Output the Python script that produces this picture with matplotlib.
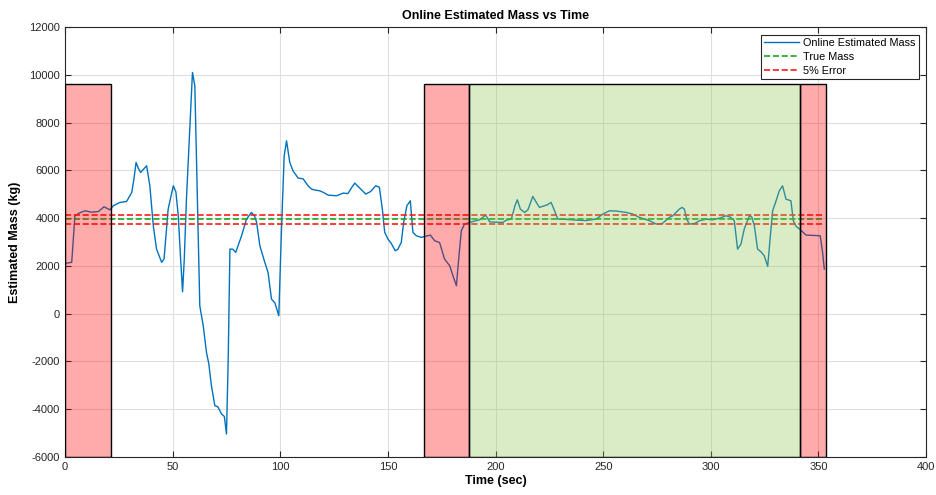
import matplotlib
matplotlib.use("Agg")
import matplotlib.pyplot as plt
from matplotlib.patches import Rectangle

plt.rcParams['font.family'] = ['Liberation Sans', 'DejaVu Sans']
plt.rcParams['axes.unicode_minus'] = False

# ---- data ----
time_s = [0, 0.8, 3.1, 4.6, 6.5, 9.3, 12.4, 15.5, 18.1, 20.9, 22.4, 25.5, 28.6, 31.0, 32.0,
          33.0, 34.0, 35.1, 37.9, 39.4, 41.0, 42.5, 44.9, 46.0, 47.9, 50.3, 51.5, 52.6, 53.7,
          54.6, 55.4, 56.4, 58.0, 59.2, 60.3, 61.4, 62.6, 64.2, 65.7, 66.8, 68.0, 69.6, 71.0,
          72.7, 74.0, 75.0, 75.8, 76.6, 78.0, 79.3, 82.0, 84.3, 86.6, 88.0, 89.0, 90.5, 92.8,
          94.3, 95.9, 97.5, 99.3, 100.5, 101.8, 102.9, 104.4, 105.9, 108.3, 110.6, 112.9,
          114.5, 116.0, 118.3, 120.0, 122.2, 126.1, 129.2, 131.4, 133.2, 134.6, 137.0, 139.7,
          142.0, 144.3, 146.0, 147.4, 148.5, 150.0, 151.5, 153.4, 154.6, 156.2, 157.3, 158.8,
          160.4, 161.6, 163.2, 165.5, 167.8, 169.7, 171.7, 174.0, 176.3, 178.7, 180.2, 181.8,
          183.0, 184.1, 185.6, 188.0, 192.6, 195.4, 197.2, 200.0, 203.4, 205.0, 207.3, 209.0,
          210.1, 211.5, 213.5, 215.0, 217.3, 219.0, 220.4, 222.0, 224.0, 225.8, 227.4, 228.9,
          233.0, 237.4, 242.0, 246.7, 249.8, 252.9, 256.0, 260.6, 263.5, 266.8, 271.5, 274.6,
          277.5, 280.7, 282.3, 283.8, 285.4, 286.6, 287.7, 288.8, 290.0, 292.5, 294.7, 297.7,
          300.8, 304.0, 307.0, 309.0, 310.9, 311.7, 312.4, 314.0, 315.5, 317.9, 319.0, 320.2,
          321.7, 323.2, 324.8, 326.4, 327.5, 328.7, 330.3, 331.8, 333.3, 334.9, 337.2, 338.3,
          339.6, 341.0, 342.6, 344.2, 347.0, 350.8, 351.9, 352.7]
mass_kg = [2050, 2121, 2150, 4100, 4214, 4310, 4250, 4280, 4478, 4350, 4520, 4660, 4700, 5080, 5637,
           6336, 6100, 5918, 6194, 5357, 3683, 2707, 2150, 2300, 4382, 5357, 5100, 4101, 2288,
           920, 2300, 4800, 7868, 10103, 9543, 5080, 333, -504, -1620, -2100, -3015, -3852, -3900,
           -4200, -4300, -5037, -1898, 2707, 2700, 2569, 3264, 3963, 4243, 4100, 3825, 2846, 2150,
           1731, 614, 450, -85, 3406, 6613, 7240, 6336, 5985, 5679, 5650, 5357,
           5219, 5180, 5148, 5080, 4967, 4940, 5051, 5030, 5290, 5470, 5250, 5010,
           5120, 5357, 5300, 4382, 3406, 3126, 2950, 2636, 2700, 2987, 3825, 4520,
           4730, 3406, 3264, 3196, 3250, 3294, 3055, 2980, 2288, 2009, 1590, 1171,
           2427, 3476, 3754, 3825, 3934, 4131, 3850, 3830, 3825, 3920, 3963, 4520,
           4771, 4382, 4243, 4350, 4913, 4650, 4452, 4500, 4560, 4660, 4310, 3963,
           3950, 3921, 3900, 3963, 4172, 4310, 4300, 4243, 4180, 4034, 3894, 3754,
           3780, 4034, 4100, 4243, 4382, 4452, 4380, 3963, 3754, 3780, 3894, 3960,
           3934, 4000, 4101, 4050, 3894, 3264, 2707, 2916, 3545, 4101, 4050, 3683,
           2707, 2600, 2427, 1983, 3126, 4310, 4730, 5148, 5357, 4800, 4730, 3894,
           3657, 3560, 3431, 3294, 3280, 3264, 2569, 1870]

true_mass = 3950
error_frac = 0.05

red_regions = [(0, 21.3), (166.6, 187.5), (341.5, 353.6)]
green_regions = [(187.5, 341.5)]
region_top = 9600
region_bottom = -6000
ref_line_end = 352

# ---- figure ----
fig = plt.figure(figsize=(9.37, 4.95), dpi=100)
ax = fig.add_axes([0.0694, 0.0768, 0.9190, 0.8683])

line_color = '#0072BD'
ax.plot(time_s, mass_kg, color=line_color, lw=1.0, zorder=2, label='Online Estimated Mass')
ax.plot([0, ref_line_end], [true_mass, true_mass], '--', color='#1FA31F', lw=1.2, zorder=2,
        label='True Mass')
ax.plot([0, ref_line_end], [true_mass * (1 + error_frac)] * 2, '--', color='#FF1A1A', lw=1.2,
        zorder=2, label='5% Error')
ax.plot([0, ref_line_end], [true_mass * (1 - error_frac)] * 2, '--', color='#FF1A1A', lw=1.2,
        zorder=2)

for x0, x1 in red_regions:
    ax.add_patch(Rectangle((x0, region_bottom), x1 - x0, region_top - region_bottom,
                           facecolor=(1, 0, 0, 0.33), edgecolor='black', lw=1.0, zorder=3))
for x0, x1 in green_regions:
    ax.add_patch(Rectangle((x0, region_bottom), x1 - x0, region_top - region_bottom,
                           facecolor=(0.55, 0.78, 0.33, 0.33), edgecolor='black', lw=1.0, zorder=3))

ax.set_xlim(0, 400)
ax.set_ylim(-6000, 12000)
ax.set_xticks(range(0, 401, 50))
ax.set_yticks(range(-6000, 12001, 2000))
ax.grid(True, color='#DFDFDF', lw=0.8)
ax.set_axisbelow(True)
ax.tick_params(direction='in', length=4, labelsize=8, colors='#262626', top=True, right=True,
               labeltop=False, labelright=False)
for sp in ax.spines.values():
    sp.set_color('#262626')
    sp.set_linewidth(0.8)

ax.set_title('Online Estimated Mass vs Time', fontsize=9, fontweight='bold', pad=6)
ax.set_xlabel('Time (sec)', fontsize=9, fontweight='bold', labelpad=2)
ax.set_ylabel('Estimated Mass (kg)', fontsize=9, fontweight='bold', labelpad=6)

leg = ax.legend(loc='upper right', fontsize=7.8, frameon=True, fancybox=False,
                edgecolor='#262626', framealpha=1, borderpad=0.3, handlelength=3.2,
                labelspacing=0.35, handletextpad=0.4, borderaxespad=0.7)
leg.get_frame().set_linewidth(0.8)
leg.set_zorder(5)

fig.savefig('out.png', dpi=100)
